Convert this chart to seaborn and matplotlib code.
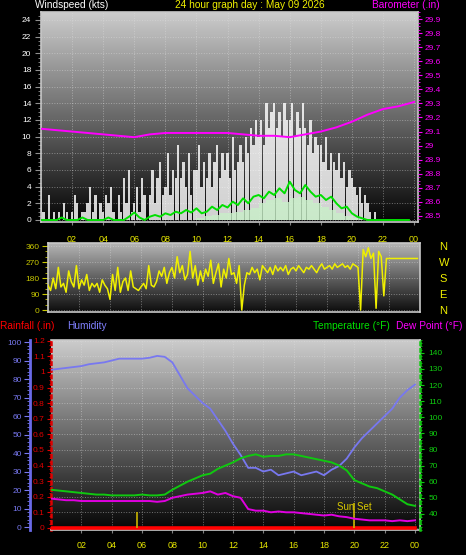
import numpy as np
import pandas as pd
import seaborn as sns
import matplotlib
matplotlib.use("Agg")
import matplotlib.pyplot as plt
from matplotlib.ticker import MultipleLocator, FuncFormatter

plt.rcParams["font.family"] = ["Liberation Sans", "DejaVu Sans"]

# ---- data ----
hour_labels = ["02", "04", "06", "08", "10", "12", "14", "16", "18", "20", "22", "00"]
hour_ticks = np.arange(2, 25, 2)

# wind gusts, 10-minute steps (kts)
wind_gust = [
    4, 1, 0, 3, 0, 1,   0, 1, 0, 2, 1, 0,   1, 3, 2, 0, 1, 1,   2, 4, 1, 3, 0, 2,
    1, 3, 2, 4, 1, 0,   3, 1, 5, 2, 6, 1,   2, 4, 1, 5, 3, 0,   3, 6, 2, 5, 7, 3,
    4, 8, 3, 6, 5, 9,   5, 7, 4, 8, 3, 6,   6, 9, 4, 7, 5, 8,   4, 7, 9, 5, 8, 6,
    8, 5, 10, 6, 7, 9,  7, 10, 8, 11, 9, 12,  10, 12, 9, 14, 11, 13,  14, 11, 13, 10, 14, 12,
    12, 14, 10, 13, 11, 14,  11, 9, 12, 8, 10, 9,  9, 7, 10, 6, 8, 7,  6, 8, 5, 7, 4, 6,
    5, 4, 3, 4, 2, 3,   2, 1, 0, 1, 0, 0,   0, 0, 0, 0, 0, 0,   0, 0, 0, 0, 0, 0,
]
# average wind, 20-minute steps (kts)
wind_avg = [
    0, 0, 0,  0, 0.3, 0,  0, 0, 0.3,  0, 0, 0,  0, 0.3, 0,  0, 0, 0.4,
    0.9, 0.3, 0,  0.4, 0.6, 0.4,  0.8, 0.6, 1.0,  0.8, 1.2, 0.9,  1.4, 0.8, 1.0,  1.6, 1.2, 1.8,
    1.5, 2.2, 1.8,  2.6, 2.0, 2.8,  3.0, 2.6, 3.4,  3.0, 3.8, 3.2,  4.6, 3.6, 3.2,  4.2, 3.4, 2.8,
    3.0, 2.4, 2.8,  2.0, 1.4, 1.6,  0.8, 0.4, 0.2,  0, 0, 0,  0, 0, 0,  0, 0, 0,
]
# lull wind, 30-minute steps (kts)
wind_low = [
    0, 0, 0, 0, 0, 0, 0, 0, 0, 0, 0, 0, 0, 0, 0, 0, 0, 0, 0, 0,
    0.3, 0.5, 0.6, 0.8, 0.8, 1.0, 1.2, 1.5, 2.0, 2.4, 2.6, 2.2, 2.6, 2.8,
    2.4, 2.0, 1.6, 1.2, 0.8, 0.5, 0.2, 0, 0, 0, 0, 0, 0, 0, 0,
]
# barometer, hourly (in)
barometer = [29.12, 29.11, 29.10, 29.09, 29.08, 29.07, 29.06, 29.08, 29.09, 29.09,
             29.09, 29.09, 29.09, 29.08, 29.07, 29.07, 29.06, 29.08, 29.10, 29.13,
             29.17, 29.22, 29.26, 29.28, 29.31]
# wind direction, 10-minute steps (deg)
wind_dir = [
    140, 110, 180, 120, 240, 130,  150, 100, 220, 160, 130, 250,  120, 170, 140, 200, 110, 150,
    130, 150, 100, 170, 140, 120,  60, 200, 110, 240, 100, 160,  180, 110, 220, 130, 120, 110,
    130, 150, 120, 250, 140, 130,  160, 220, 190, 240, 150, 210,  240, 180, 300, 210, 250, 170,
    200, 330, 180, 250, 140, 220,  160, 230, 190, 280, 150, 210,  260, 130, 230, 180, 290, 200,
    210, 150, 250, 0, 140, 210,  200, 240, 210, 230, 170, 250,  230, 210, 240, 200, 250, 220,
    240, 220, 250, 200, 230, 240,  220, 250, 230, 210, 240, 230,  250, 230, 210, 240, 260, 230,
    240, 250, 230, 260, 240, 250,  260, 240, 250, 230, 260, 250,  240, 0, 340, 300, 350, 290,
    320, 10, 330, 300, 80, 290,  290, 290, 290, 290, 290, 290,  290, 290, 290, 290, 290, 290,
]
# 30-minute steps
humidity = [85, 85.5, 86, 86.5, 87, 88, 88.5, 89, 90, 91, 91, 91, 91, 91.5, 92.5, 92,
            89, 82, 75, 71, 67, 64, 58, 52, 45, 39, 32, 32, 30, 31, 28, 29, 30, 28,
            29, 30, 28, 31, 33, 37, 43, 48, 52, 56, 60, 64, 70, 74, 77]
temperature = [55, 54.5, 54, 53.5, 53, 52.5, 52, 52, 51.5, 51.5, 51.5, 51.5, 52, 51.5,
               51.5, 52, 55, 57.5, 60, 62, 64, 65, 68, 70, 72, 74.5, 76, 77, 75.5, 76,
               76, 77, 77, 76, 75, 74, 73, 72, 70, 67, 61, 59, 57, 56, 54, 52, 49, 46, 45]
dew_point = [49.5, 49, 48.5, 48.5, 48, 48, 48, 48, 48, 48, 48, 48, 48, 48, 47.5, 48,
             50, 51, 52, 52.5, 53, 54, 52, 53, 51, 50, 43, 42, 42, 41, 41.5, 41, 41,
             40.5, 40, 39.5, 39, 39.5, 38.5, 38, 37, 36.5, 36, 36, 36, 35.5, 36, 35.5, 36]
rainfall = [0] * 25
sunrise_hour = 5.7
sunset_hour = 20.0

t10 = np.arange(len(wind_gust)) / 6
t20 = np.arange(len(wind_avg)) / 3
t30 = np.arange(len(humidity)) / 2
hours = np.arange(25)

# ---- figure ----
fig = plt.figure(figsize=(4.66, 5.55), dpi=100, facecolor="black")


def box(l, t, r, b):
    return fig.add_axes([l / 466, 1 - b / 555, (r - l) / 466, (b - t) / 555])


def backdrop(ax, top, bottom):
    shade = np.linspace(top, bottom, 200).reshape(-1, 1)
    ax.imshow(shade, cmap="gray", vmin=0, vmax=1, aspect="auto",
              extent=(0, 1, 0, 1), transform=ax.transAxes, zorder=0)
    ax.set_facecolor("black")
    for s in ax.spines.values():
        s.set_color("#c8c8c8")
        s.set_linewidth(1.2)
    ax.set_axisbelow(True)
    ax.grid(True, ls=":", color="#e0e0e0", lw=0.7, alpha=0.45)


def hour_axis(ax, show, pad):
    ax.set_xticks(hour_ticks)
    ax.set_xticklabels(hour_labels if show else [])
    ax.tick_params(axis="x", colors="#808080", length=2, pad=pad,
                   labelcolor="#e8e800", labelsize=6.5)


# panel 1: wind speed + barometer
ax1 = box(41, 12, 418, 222)
backdrop(ax1, 0.80, 0.02)
sns.barplot(x=t10, y=wind_gust, native_scale=True, width=0.9, color="white",
            saturation=1, errorbar=None, alpha=0.82, linewidth=0, ax=ax1, zorder=2)
ax1.fill_between(t30, wind_low, step="post", color="#c8f0c8", alpha=0.8, lw=0, zorder=3)
sns.lineplot(x=t20, y=wind_avg, color="#00e000", linewidth=1.4, ax=ax1, zorder=4)
ax1.set_xlim(0, 24.25)
ax1.set_ylim(-0.24, 24.96)
ax1.set_yticks(range(0, 25, 2))
ax1.yaxis.set_minor_locator(MultipleLocator(0.5))
ax1.tick_params(axis="y", which="both", colors="#909090", labelcolor="white",
                labelsize=6, length=4, pad=3)
ax1.tick_params(axis="y", which="minor", length=2)
hour_axis(ax1, True, 7)
ax1.set_xlabel("")
ax1.set_ylabel("")

ax1b = ax1.twinx()
sns.lineplot(x=hours, y=barometer, color="#ff00ff", linewidth=1.4, ax=ax1b)
ax1b.set_ylim(28.457, 29.95)
ax1b.set_yticks(np.round(np.arange(28.5, 29.95, 0.1), 1))
ax1b.yaxis.set_major_formatter(FuncFormatter(lambda v, _: f"{v:g}"))
ax1b.yaxis.set_minor_locator(MultipleLocator(0.025))
ax1b.tick_params(axis="y", which="both", colors="#ff00ff", labelsize=6, length=3, pad=2)
ax1b.tick_params(axis="y", which="minor", length=1.5)
ax1b.set_ylabel("")
for s in ax1b.spines.values():
    s.set_visible(False)

# panel 2: wind direction
ax2 = box(48, 243, 420, 312)
backdrop(ax2, 0.72, 0.05)
sns.lineplot(x=t10, y=wind_dir, color="#f0f000", linewidth=1.1, ax=ax2, zorder=3)
ax2.set_xlim(0, 24)
ax2.set_ylim(-11, 377)
ax2.set_yticks([0, 90, 180, 270, 360])
ax2.yaxis.set_minor_locator(MultipleLocator(30))
ax2.tick_params(axis="y", which="both", colors="#c8c800", labelsize=6, length=4, pad=2)
ax2.tick_params(axis="y", which="minor", length=2)
hour_axis(ax2, False, 2)
ax2.tick_params(axis="x", length=0)
ax2.set_ylabel("")

ax2b = ax2.twinx()
ax2b.set_ylim(ax2.get_ylim())
ax2b.set_yticks([360, 270, 180, 90, 0])
ax2b.set_yticklabels(["N", "W", "S", "E", "N"])
ax2b.tick_params(axis="y", colors="#f0f000", labelsize=8, length=0, pad=14)
for s in ax2b.spines.values():
    s.set_visible(False)

# panel 3: rain, humidity, temperature, dew point
ax3 = box(51, 340, 420, 530)
backdrop(ax3, 0.80, 0.02)
sns.lineplot(x=hours, y=rainfall, color="#ff0000", linewidth=2.6, ax=ax3, zorder=3)
ax3.vlines(sunrise_hour, 0, 0.1, color="#c8b400", lw=1.2, zorder=3)
ax3.vlines(sunset_hour, 0, 0.16, color="#c8b400", lw=1.2, zorder=3)
ax3.text(sunset_hour, 0.105, "Sun Set", color="#d8c800", fontsize=7, ha="center",
         va="bottom", zorder=4)
ax3.set_xlim(0, 24.33)
ax3.set_ylim(-0.013, 1.205)
ax3.set_yticks(np.round(np.arange(0, 1.21, 0.1), 1))
ax3.yaxis.set_major_formatter(FuncFormatter(lambda v, _: f"{v:g}"))
ax3.yaxis.set_minor_locator(MultipleLocator(0.025))
ax3.tick_params(axis="y", which="both", colors="#e00000", labelsize=6, length=3, pad=1.5)
ax3.tick_params(axis="y", which="minor", length=1.5)
ax3.spines["left"].set_color("#e00000")
ax3.spines["left"].set_linestyle(":")
ax3.spines["left"].set_linewidth(1.8)
hour_axis(ax3, True, 6)
ax3.set_ylabel("")

axh = ax3.twinx()
sns.lineplot(x=t30, y=humidity, color="#7878f0", linewidth=1.3, ax=axh)
axh.yaxis.tick_left()
axh.yaxis.set_label_position("left")
for s in axh.spines.values():
    s.set_visible(False)
axh.spines["left"].set_visible(True)
axh.spines["left"].set_position(("outward", 15))
axh.spines["left"].set_color("#6a6ae8")
axh.spines["left"].set_linewidth(2)
axh.set_ylim(-1.6, 101.1)
axh.set_yticks(range(0, 101, 10))
axh.yaxis.set_minor_locator(MultipleLocator(2))
axh.tick_params(axis="y", which="both", colors="#7878f0", labelsize=6, length=4, pad=2)
axh.tick_params(axis="y", which="minor", length=2)
axh.set_ylabel("")

axt = ax3.twinx()
sns.lineplot(x=t30, y=temperature, color="#10c810", linewidth=1.4, ax=axt)
sns.lineplot(x=t30, y=dew_point, color="#e000e0", linewidth=1.4, ax=axt)
for s in axt.spines.values():
    s.set_visible(False)
axt.spines["right"].set_visible(True)
axt.spines["right"].set_color("#10c810")
axt.spines["right"].set_linestyle(":")
axt.spines["right"].set_linewidth(1.8)
axt.set_ylim(30, 148)
axt.set_yticks(range(40, 141, 10))
axt.yaxis.set_minor_locator(MultipleLocator(2))
axt.tick_params(axis="y", which="both", colors="#10c810", labelsize=6, length=3, pad=3)
axt.tick_params(axis="y", which="minor", length=1.5)
axt.set_ylabel("")

# headers
hdr = 7.3
fig.text(35 / 466, 1, "Windspeed (kts)", color="white", fontsize=hdr, va="top")
fig.text(250 / 466, 1, "24 hour graph day : May 09 2026", color="#f0f000",
         fontsize=hdr, va="top", ha="center")
fig.text(440 / 466, 1, "Barometer (.in)", color="#ff00ff", fontsize=hdr, va="top", ha="right")
y_hdr = 1 - 326 / 555
fig.text(0, y_hdr, "Rainfall (.in)", color="#ff0000", fontsize=hdr, va="center")
fig.text(67 / 466, y_hdr, "Humidity", color="#8080ff", fontsize=hdr, va="center")
fig.text(313 / 466, y_hdr, "Temperature (°F)", color="#00e000", fontsize=hdr, va="center")
fig.text(462 / 466, y_hdr, "Dew Point (°F)", color="#ff00ff", fontsize=hdr, va="center",
         ha="right")

fig.savefig("out.png", dpi=100, facecolor="black")
